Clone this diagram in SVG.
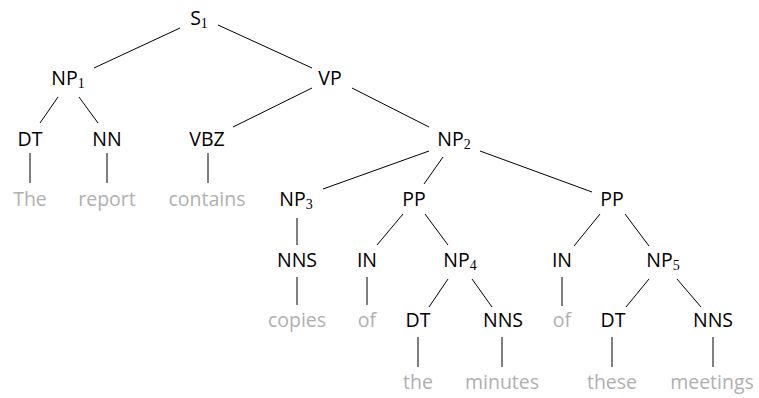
<svg xmlns="http://www.w3.org/2000/svg" width="759" height="398" viewBox="0 0 759 398">
<style>
text{font-family:"Open Sans","Noto Sans",sans-serif;font-size:19.5px;text-anchor:middle}
.c{fill:#000}
.w{fill:#b0b0b0}
.s{font-family:"Liberation Serif","DejaVu Serif",serif;font-size:14px}
#edges line{stroke:#000;stroke-width:1}
</style>
<rect width="759" height="398" fill="#fff"/>
<g id="edges">
<line x1="180" y1="28" x2="94" y2="68"/>
<line x1="218" y1="25" x2="312" y2="68"/>
<line x1="58" y1="97" x2="40" y2="123"/>
<line x1="79" y1="97" x2="98" y2="123"/>
<line x1="312" y1="88" x2="233" y2="127"/>
<line x1="352" y1="88" x2="429" y2="127"/>
<line x1="30" y1="153" x2="30" y2="183"/>
<line x1="107" y1="153" x2="107" y2="183"/>
<line x1="208" y1="153" x2="208" y2="183"/>
<line x1="429" y1="151" x2="323" y2="189"/>
<line x1="443" y1="157" x2="424" y2="184"/>
<line x1="480" y1="151" x2="592" y2="192"/>
<line x1="297" y1="218" x2="297" y2="245"/>
<line x1="403" y1="214" x2="377" y2="245"/>
<line x1="425" y1="214" x2="448" y2="245"/>
<line x1="600" y1="214" x2="574" y2="246"/>
<line x1="625" y1="214" x2="649" y2="246"/>
<line x1="297" y1="277" x2="297" y2="305"/>
<line x1="367" y1="277" x2="367" y2="305"/>
<line x1="562" y1="277" x2="562" y2="306"/>
<line x1="448" y1="279" x2="429" y2="307"/>
<line x1="472" y1="279" x2="492" y2="307"/>
<line x1="649" y1="279" x2="626" y2="307"/>
<line x1="677" y1="279" x2="701" y2="307"/>
<line x1="418" y1="337" x2="418" y2="367"/>
<line x1="502" y1="337" x2="502" y2="367"/>
<line x1="612" y1="337" x2="612" y2="367"/>
<line x1="713" y1="337" x2="713" y2="367"/>
</g>
<g id="S1"><text class="c" x="199" y="25">S<tspan class="s" dy="3">1</tspan></text></g>
<g id="NP1"><text class="c" x="68" y="85">NP<tspan class="s" dy="3">1</tspan></text></g>
<g id="VP"><text class="c" x="330" y="85">VP</text></g>
<g id="DT1"><text class="c" x="30" y="146">DT</text></g>
<g id="NN"><text class="c" x="107" y="146">NN</text></g>
<g id="VBZ"><text class="c" x="207" y="146">VBZ</text></g>
<g id="NP2"><text class="c" x="454" y="146">NP<tspan class="s" dy="3">2</tspan></text></g>
<g id="w-The"><text class="w" x="30" y="206">The</text></g>
<g id="w-report"><text class="w" x="107" y="206">report</text></g>
<g id="w-contains"><text class="w" x="207" y="206">contains</text></g>
<g id="NP3"><text class="c" x="296" y="206">NP<tspan class="s" dy="3">3</tspan></text></g>
<g id="PP1"><text class="c" x="414" y="206">PP</text></g>
<g id="PP2"><text class="c" x="612" y="206">PP</text></g>
<g id="NNS1"><text class="c" x="297" y="267">NNS</text></g>
<g id="IN1"><text class="c" x="367" y="267">IN</text></g>
<g id="NP4"><text class="c" x="460" y="267">NP<tspan class="s" dy="3">4</tspan></text></g>
<g id="IN2"><text class="c" x="562" y="267">IN</text></g>
<g id="NP5"><text class="c" x="663" y="267">NP<tspan class="s" dy="3">5</tspan></text></g>
<g id="w-copies"><text class="w" x="297" y="327">copies</text></g>
<g id="w-of1"><text class="w" x="367" y="327">of</text></g>
<g id="DT2"><text class="c" x="418" y="327">DT</text></g>
<g id="NNS2"><text class="c" x="503" y="327">NNS</text></g>
<g id="w-of2"><text class="w" x="562" y="327">of</text></g>
<g id="DT3"><text class="c" x="613" y="327">DT</text></g>
<g id="NNS3"><text class="c" x="713" y="327">NNS</text></g>
<g id="w-the"><text class="w" x="418" y="389">the</text></g>
<g id="w-minutes"><text class="w" x="502" y="389">minutes</text></g>
<g id="w-these"><text class="w" x="612" y="389">these</text></g>
<g id="w-meetings"><text class="w" x="712" y="389">meetings</text></g>
</svg>
